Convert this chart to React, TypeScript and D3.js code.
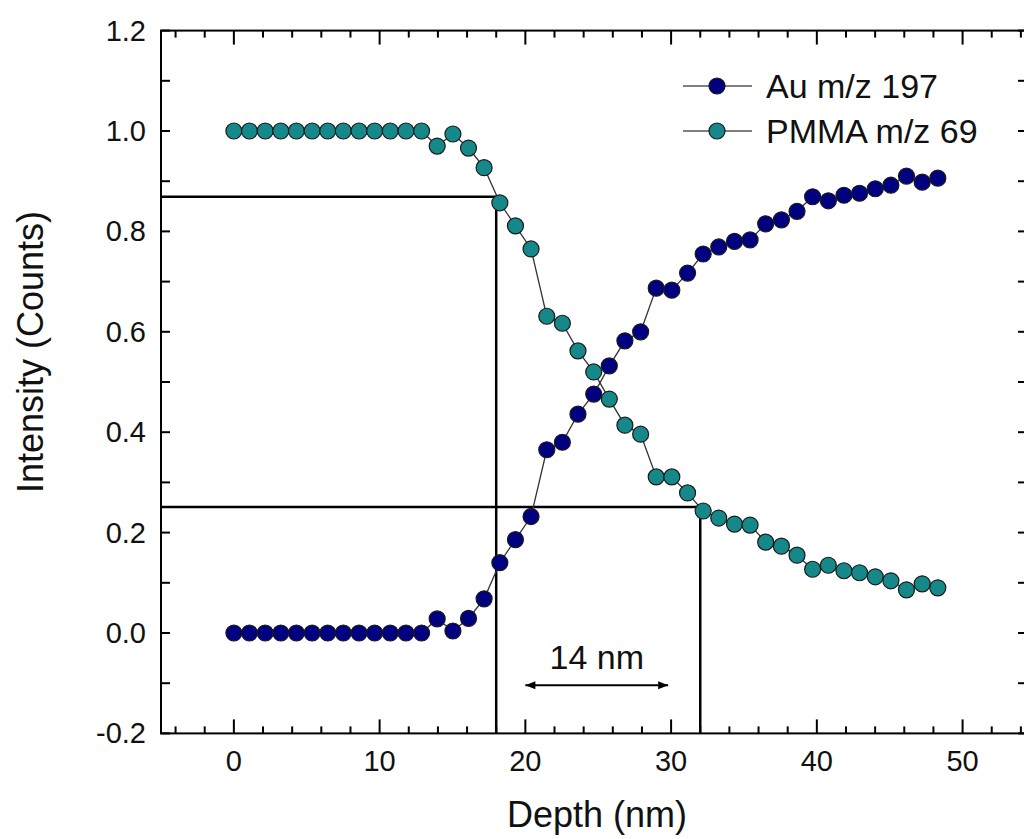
import React from "react";
import * as d3 from "d3";

const depth = [0, 1.07, 2.15, 3.22, 4.29, 5.37, 6.44, 7.51, 8.59, 9.66, 10.73, 11.81, 12.88, 13.95, 15.03, 16.1, 17.17, 18.25, 19.32, 20.39, 21.47, 22.54, 23.61, 24.69, 25.76, 26.83, 27.91, 28.98, 30.05, 31.13, 32.2, 33.27, 34.35, 35.42, 36.49, 37.57, 38.64, 39.71, 40.79, 41.86, 42.93, 44.01, 45.08, 46.15, 47.23, 48.3];
const au = [0, 0, 0, 0, 0, 0, 0, 0, 0, 0, 0, 0, 0, 0.028, 0.004, 0.029, 0.068, 0.14, 0.186, 0.232, 0.365, 0.38, 0.436, 0.476, 0.532, 0.582, 0.6, 0.687, 0.683, 0.717, 0.755, 0.769, 0.78, 0.783, 0.815, 0.823, 0.84, 0.869, 0.861, 0.872, 0.876, 0.885, 0.892, 0.91, 0.898, 0.906];
const pmma = [1, 1, 1, 1, 1, 1, 1, 1, 1, 1, 1, 1, 1, 0.97, 0.994, 0.966, 0.927, 0.857, 0.811, 0.765, 0.631, 0.617, 0.562, 0.52, 0.466, 0.414, 0.396, 0.311, 0.311, 0.279, 0.243, 0.229, 0.217, 0.215, 0.181, 0.173, 0.155, 0.127, 0.135, 0.124, 0.12, 0.112, 0.104, 0.086, 0.098, 0.09];

const seriesNames = ["Au m/z 197", "PMMA m/z 69"];
const seriesColors = ["#000080", "#15898a"];

const xMajorTicks = [0, 10, 20, 30, 40, 50];
const xMinorTicks = [-4, -2, 2, 4, 6, 8, 12, 14, 16, 18, 22, 24, 26, 28, 32, 34, 36, 38, 42, 44, 46, 48, 52, 54];
const yMajorTicks = [-0.2, 0, 0.2, 0.4, 0.6, 0.8, 1.0, 1.2];
const yMinorTicks = [-0.1, 0.1, 0.3, 0.5, 0.7, 0.9, 1.1];

const guideDepths = [18, 32];
const guideLevels = [0.869, 0.251];
const arrowFrom = 20;
const arrowTo = 29.8;
const arrowLevel = -0.104;
const arrowLabel = "14 nm";

const FONT = "'Liberation Sans', Arial, sans-serif";

export default function App() {
  const left = 161, right = 1027, top = 30.6, bottom = 733.4;
  const x = d3.scaleLinear().domain([-5, 54.42]).range([left, right]);
  const y = d3.scaleLinear().domain([-0.2, 1.2]).range([bottom, top]);

  const line = d3.line<number>().x((_, i) => x(depth[i])).y((d) => y(d));
  const data = [pmma, au];
  const colors = [seriesColors[1], seriesColors[0]];

  return (
    <svg width={1024} height={839} style={{ position: "absolute", left: 0, top: 0, background: "#fff" }} fontFamily={FONT}>
      <defs>
        <marker id="ah" viewBox="0 0 10 10" refX="10" refY="5" markerWidth="14" markerHeight="10" markerUnits="userSpaceOnUse" orient="auto-start-reverse">
          <path d="M0,1 L10,5 L0,9 Z" fill="#000" />
        </marker>
      </defs>
      {/* frame */}
      <rect x={left} y={top} width={right - left} height={bottom - top} fill="none" stroke="#000" strokeWidth={2} />
      {/* x ticks */}
      {xMajorTicks.map((t) => (
        <g key={"xM" + t}>
          <line x1={x(t)} x2={x(t)} y1={bottom} y2={bottom - 14} stroke="#000" strokeWidth={2} />
          <line x1={x(t)} x2={x(t)} y1={top} y2={top + 14} stroke="#000" strokeWidth={2} />
          <text x={x(t)} y={bottom + 38} textAnchor="middle" fontSize={29} fill="#111">{t}</text>
        </g>
      ))}
      {xMinorTicks.map((t) => (
        <g key={"xm" + t}>
          <line x1={x(t)} x2={x(t)} y1={bottom} y2={bottom - 7} stroke="#000" strokeWidth={2} />
          <line x1={x(t)} x2={x(t)} y1={top} y2={top + 7} stroke="#000" strokeWidth={2} />
        </g>
      ))}
      {yMajorTicks.map((t) => (
        <g key={"yM" + t}>
          <line x1={left} x2={left + 9} y1={y(t)} y2={y(t)} stroke="#000" strokeWidth={2} />
          <line x1={right} x2={right - 9} y1={y(t)} y2={y(t)} stroke="#000" strokeWidth={2} />
          <text x={146} y={y(t) + 10} textAnchor="end" fontSize={29} fill="#111">{d3.format(".1f")(t).replace("−", "-")}</text>
        </g>
      ))}
      {yMinorTicks.map((t) => (
        <g key={"ym" + t}>
          <line x1={left} x2={left + 9} y1={y(t)} y2={y(t)} stroke="#000" strokeWidth={2} />
          <line x1={right} x2={right - 9} y1={y(t)} y2={y(t)} stroke="#000" strokeWidth={2} />
        </g>
      ))}
      {/* axis titles */}
      <text x={597} y={827} textAnchor="middle" fontSize={36} fill="#111">Depth (nm)</text>
      <text transform="translate(43,352) rotate(-90)" textAnchor="middle" fontSize={36} fill="#111">Intensity (Counts)</text>

      {/* guide lines */}
      {guideDepths.map((g, i) => (
        <g key={"g" + i}>
          <line x1={x(-5)} x2={x(g)} y1={y(guideLevels[i])} y2={y(guideLevels[i])} stroke="#000" strokeWidth={2.5} />
          <line x1={x(g)} x2={x(g)} y1={y(guideLevels[i])} y2={y(-0.2)} stroke="#000" strokeWidth={2.5} />
        </g>
      ))}
      {/* arrow */}
      <line x1={x(arrowFrom)} x2={x(arrowTo)} y1={y(arrowLevel)} y2={y(arrowLevel)} stroke="#000" strokeWidth={2} markerStart="url(#ah)" markerEnd="url(#ah)" />
      <text x={x((arrowFrom + arrowTo) / 2)} y={y(arrowLevel) - 16} textAnchor="middle" fontSize={34} fill="#111">{arrowLabel}</text>

      {/* series */}
      {data.map((s, k) => (
        <g key={"s" + k}>
          <path d={line(s) || ""} fill="none" stroke="#333" strokeWidth={1.3} />
          {s.map((v, i) => (
            <circle key={i} cx={x(depth[i])} cy={y(v)} r={8} fill={colors[k]} stroke="#1a1a1a" strokeWidth={1.2} />
          ))}
        </g>
      ))}

      {/* legend */}
      {seriesNames.map((n, i) => {
        const ly = 86 + i * 45;
        return (
          <g key={"l" + i}>
            <line x1={683} x2={752} y1={ly} y2={ly} stroke="#555" strokeWidth={1.3} />
            <circle cx={717} cy={ly} r={8} fill={seriesColors[i]} stroke="#1a1a1a" strokeWidth={1.2} />
            <text x={766} y={ly + 12} fontSize={34} fill="#111">{n}</text>
          </g>
        );
      })}
    </svg>
  );
}
